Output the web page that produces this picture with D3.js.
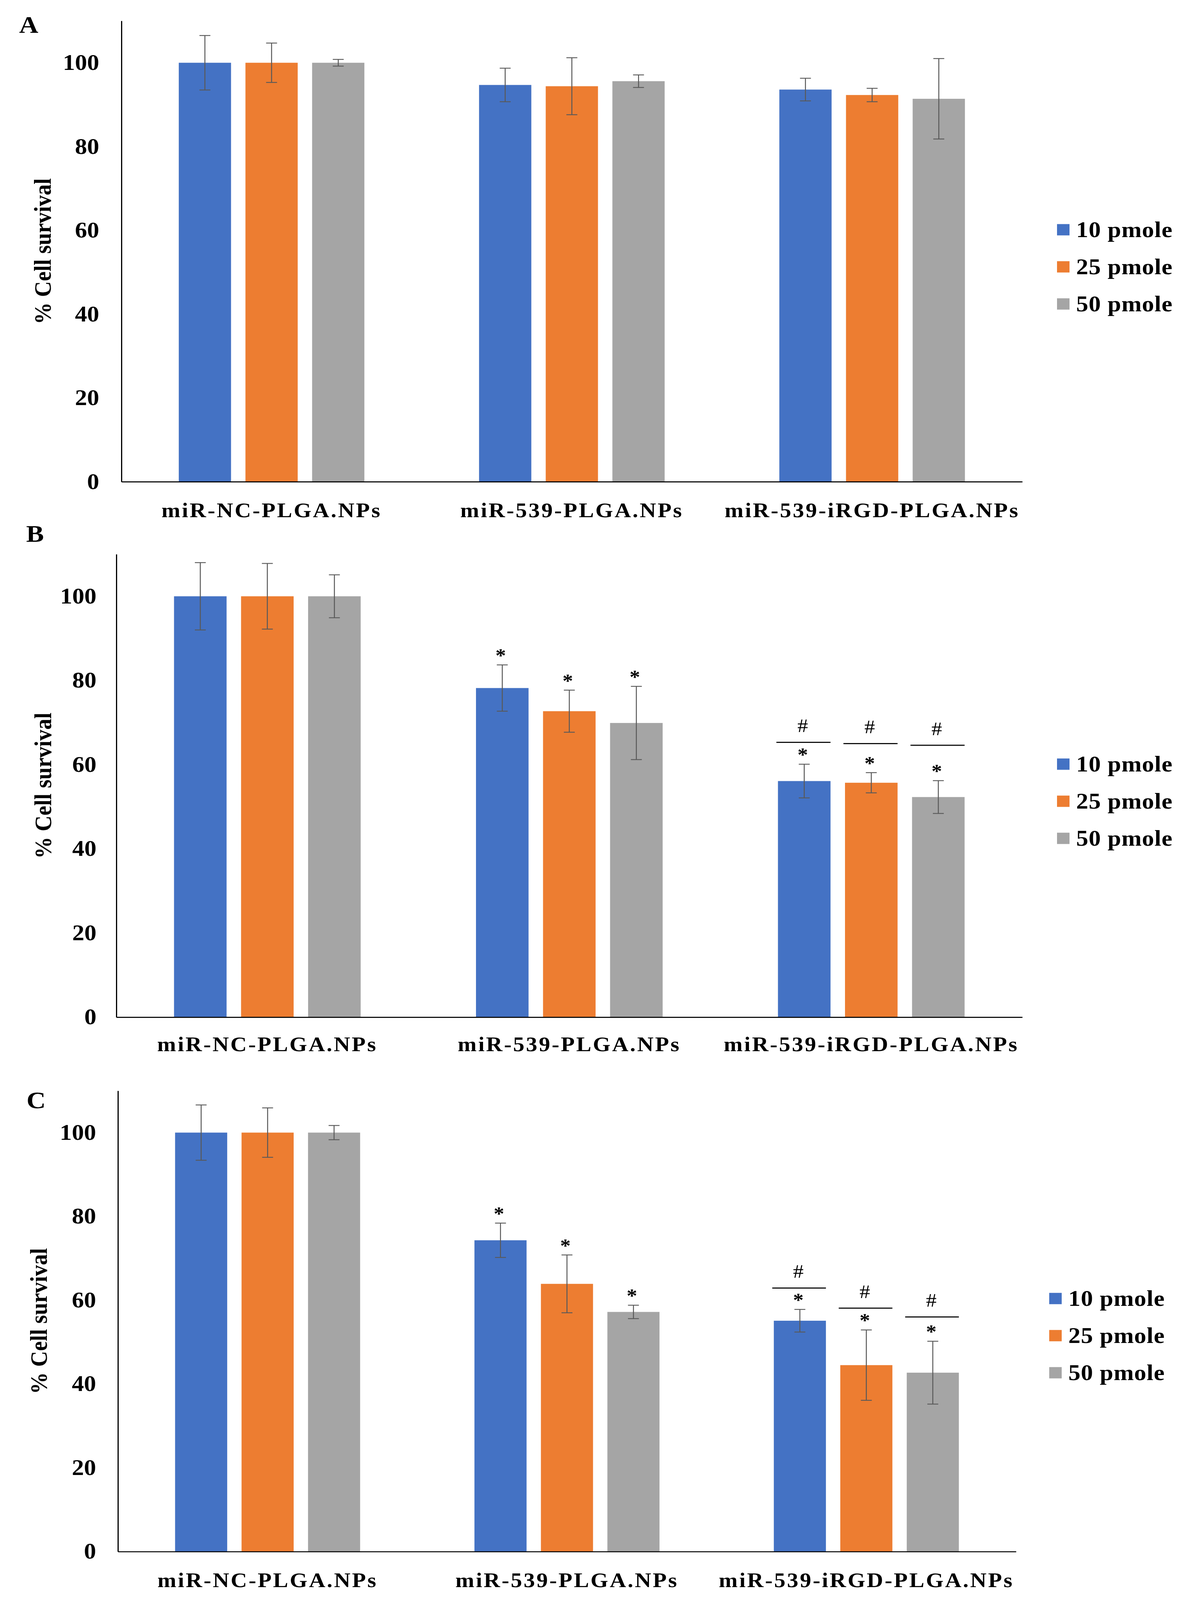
<!DOCTYPE html>
<html>
<head>
<meta charset="utf-8">
<script src="https://cdn.jsdelivr.net/npm/d3@7"></script>
<style>
  html, body { margin: 0; padding: 0; background: #fff; width: 100%; height: 100%; overflow: hidden; }
  svg { display: block; width: 100vw; height: 100vh; }
</style>
</head>
<body>
<svg id="chart"></svg>
<script>
// Categories, series and tick labels
const categories = ['miR-NC-PLGA.NPs', 'miR-539-PLGA.NPs', 'miR-539-iRGD-PLGA.NPs'];
const series = ['10 pmole', '25 pmole', '50 pmole'];
const colors = ['#4472C4', '#ED7D31', '#A5A5A5'];
const yTicks = [0, 20, 40, 60, 80, 100];
const panelLetters = ['A', 'B', 'C'];

// Panel A: mean % survival and error per category (rows) and dose (columns)
const meansA = [[100, 100, 100], [94.7, 94.4, 95.6], [93.6, 92.3, 91.4]];
const errA = [[6.5, 4.7, 0.8], [4.0, 6.8, 1.5], [2.7, 1.6, 9.6]];
const starsA = [[0, 0, 0], [0, 0, 0], [0, 0, 0]];
const hashA = [[null, null, null], [null, null, null], [null, null, null]];

// Panel B
const meansB = [[100, 100, 100], [78.2, 72.7, 69.9], [56.1, 55.7, 52.3]];
const errB = [[8.0, 7.8, 5.1], [5.5, 5.0, 8.7], [4.0, 2.4, 3.9]];
const starsB = [[0, 0, 0], [1, 1, 1], [1, 1, 1]];
const hashB = [[null, null, null], [null, null, null], [65.3, 65.0, 64.6]];

// Panel C
const meansC = [[100, 100, 100], [74.3, 63.9, 57.2], [55.1, 44.5, 42.7]];
const errC = [[6.6, 5.9, 1.7], [4.1, 6.9, 1.6], [2.7, 8.4, 7.5]];
const starsC = [[0, 0, 0], [1, 1, 1], [1, 1, 1]];
const hashC = [[null, null, null], [null, null, null], [62.9, 58.1, 56.0]];

const panels = [
    { means: meansA, err: errA, stars: starsA, hash: hashA },
    { means: meansB, err: errB, stars: starsB, hash: hashB },
    { means: meansC, err: errC, stars: starsC, hash: hashC }
];

// Page placement of each panel
const layout = [
    { left: 311, right: 2618, top: 59, bottom: 1363, tickPad: 57, catPad: 59, yLabelX: 109, letterX: 49, letterY: 93, legendX: 2707, legendY: 650 },
    { left: 298, right: 2618, top: 1568, bottom: 2878, tickPad: 51, catPad: 55, yLabelX: 110, letterX: 67, letterY: 1533, legendX: 2707, legendY: 2162 },
    { left: 302, right: 2602, top: 3086, bottom: 4390, tickPad: 56, catPad: 59, yLabelX: 99, letterX: 68, letterY: 3136, legendX: 2687, legendY: 3674 }
];

const width = 3045;
const height = 4527;
const font = '"Liberation Serif", "Times New Roman", serif';

// viewBox stretched to the window so the whole figure fills it
const svg = d3.select('#chart')
    .attr('viewBox', `0 0 ${width} ${height}`)
    .attr('preserveAspectRatio', 'none')
    .style('font-family', font);

svg.append('rect').attr('width', width).attr('height', height).attr('fill', '#fff');

panels.forEach((p, i) => drawPanel(p, layout[i], panelLetters[i]));

function drawPanel(p, L, letter) {
    const g = svg.append('g');

    const x0 = d3.scaleBand()
        .domain(categories)
        .range([L.left, L.right])
        .padding(0);

    const x1 = d3.scaleBand()
        .domain(series)
        .range([0, x0.bandwidth()])
        .paddingInner(0.216)
        .paddingOuter(0.86);

    const y = d3.scaleLinear()
        .domain([0, 110])
        .range([L.bottom, L.top]);

    // flat list of bars
    const bars = [];
    categories.forEach((c, ci) => {
        series.forEach((s, si) => {
            bars.push({
                cat: c, ser: s, si: si,
                value: p.means[ci][si],
                err: p.err[ci][si],
                star: p.stars[ci][si],
                hash: p.hash[ci][si]
            });
        });
    });

    const bx = d => x0(d.cat) + x1(d.ser);
    const bw = x1.bandwidth();

    g.selectAll('.bar')
        .data(bars)
        .join('rect')
        .attr('class', 'bar')
        .attr('x', bx)
        .attr('y', d => y(d.value))
        .attr('width', bw)
        .attr('height', d => y(0) - y(d.value))
        .attr('fill', d => colors[d.si]);

    // Error bars
    const capW = 28;
    const eb = g.selectAll('.err')
        .data(bars)
        .join('g')
        .attr('class', 'err')
        .attr('stroke', '#595959')
        .attr('stroke-width', 2.5);
    eb.append('line')
        .attr('x1', d => bx(d) + bw / 2).attr('x2', d => bx(d) + bw / 2)
        .attr('y1', d => y(d.value + d.err)).attr('y2', d => y(d.value - d.err));
    eb.append('line')
        .attr('x1', d => bx(d) + bw / 2 - capW / 2).attr('x2', d => bx(d) + bw / 2 + capW / 2)
        .attr('y1', d => y(d.value + d.err)).attr('y2', d => y(d.value + d.err));
    eb.append('line')
        .attr('x1', d => bx(d) + bw / 2 - capW / 2).attr('x2', d => bx(d) + bw / 2 + capW / 2)
        .attr('y1', d => y(d.value - d.err)).attr('y2', d => y(d.value - d.err));

    // Significance marks
    g.selectAll('.star')
        .data(bars.filter(d => d.star))
        .join('text')
        .attr('class', 'star')
        .attr('x', d => bx(d) + bw / 2 - 4)
        .attr('y', d => y(d.value + d.err) - 9)
        .attr('text-anchor', 'middle')
        .attr('font-size', 54)
        .attr('font-weight', 'bold')
        .text('*');

    const hashed = bars.filter(d => d.hash != null);
    g.selectAll('.hashline')
        .data(hashed)
        .join('line')
        .attr('class', 'hashline')
        .attr('x1', d => bx(d) - 4)
        .attr('x2', d => bx(d) + bw)
        .attr('y1', d => y(d.hash))
        .attr('y2', d => y(d.hash))
        .attr('stroke', '#000')
        .attr('stroke-width', 3);

    g.selectAll('.hash')
        .data(hashed)
        .join('text')
        .attr('class', 'hash')
        .attr('x', d => bx(d) + bw / 2 - 4)
        .attr('y', d => y(d.hash) - 29)
        .attr('text-anchor', 'middle')
        .attr('font-size', 54)
        .text('#');

    // Y axis
    const yAxis = g.append('g')
        .attr('transform', `translate(${L.left},0)`)
        .call(d3.axisLeft(y).tickValues(yTicks).tickSize(0).tickSizeOuter(0).tickPadding(L.tickPad));
    yAxis.select('.domain').attr('stroke', '#000').attr('stroke-width', 3);
    yAxis.selectAll('text')
        .attr('font-family', font)
        .attr('font-size', 62)
        .attr('font-weight', 'bold')
        .attr('fill', '#000');

    // X axis
    const xAxis = g.append('g')
        .attr('transform', `translate(0,${L.bottom})`)
        .call(d3.axisBottom(x0).tickSize(0).tickSizeOuter(0).tickPadding(L.catPad));
    xAxis.select('.domain').attr('stroke', '#000').attr('stroke-width', 3);
    xAxis.selectAll('text')
        .attr('font-family', font)
        .attr('font-size', 58)
        .attr('font-weight', 'bold')
        .attr('letter-spacing', '4px')
        .attr('fill', '#000');

    // Y axis title
    g.append('text')
        .attr('transform', `translate(${L.yLabelX},${(L.top + L.bottom) / 2}) rotate(-90)`)
        .attr('text-anchor', 'middle')
        .attr('dominant-baseline', 'central')
        .attr('font-size', 62)
        .attr('font-weight', 'bold')
        .text('% Cell survival');

    // Panel letter
    g.append('text')
        .attr('x', L.letterX)
        .attr('y', L.letterY)
        .attr('font-size', 68)
        .attr('font-weight', 'bold')
        .text(letter);

    // Legend
    const leg = g.selectAll('.legend')
        .data(series)
        .join('g')
        .attr('class', 'legend')
        .attr('transform', (d, i) => `translate(${L.legendX},${L.legendY + i * 105})`);
    leg.append('rect')
        .attr('x', 0).attr('y', -16)
        .attr('width', 32).attr('height', 32)
        .attr('fill', (d, i) => colors[i]);
    leg.append('text')
        .attr('x', 49)
        .attr('y', 0)
        .attr('dominant-baseline', 'central')
        .attr('font-size', 62)
        .attr('font-weight', 'bold')
        .attr('letter-spacing', '1px')
        .text(d => d);
}
</script>
</body>
</html>
